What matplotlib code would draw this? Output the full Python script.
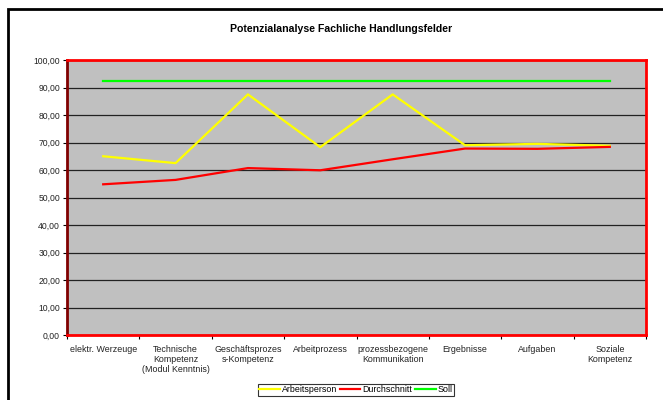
import matplotlib
matplotlib.use('Agg')
import matplotlib.pyplot as plt
from matplotlib.patches import Rectangle

plt.rcParams['font.family'] = ['Liberation Sans', 'DejaVu Sans']

categories = ['elektr. Werzeuge', 'Technische\nKompetenz\n(Modul Kenntnis)',
              'Geschäftsprozes\ns-Kompetenz', 'Arbeitprozess',
              'prozessbezogene\nKommunikation', 'Ergebnisse', 'Aufgaben',
              'Soziale\nKompetenz']
arbeitsperson = [65.0, 62.5, 87.5, 68.3, 87.5, 69.0, 69.5, 68.8]
durchschnitt = [54.8, 56.4, 60.7, 59.9, 63.9, 67.8, 67.7, 68.4]
soll = [92.5, 92.5, 92.5, 92.5, 92.5, 92.5, 92.5, 92.5]
yticks = [0, 10, 20, 30, 40, 50, 60, 70, 80, 90, 100]

W, H = 663, 400
fig = plt.figure(figsize=(W / 100, H / 100), dpi=100)
ax = fig.add_axes([67 / W, 1 - 335 / H, (646 - 67) / W, (335 - 60) / H])
ax.set_facecolor('#c0c0c0')

x = list(range(len(categories)))
ax.plot(x, arbeitsperson, color='#ffff00', lw=1.6, label='Arbeitsperson')
ax.plot(x, durchschnitt, color='#ff0000', lw=1.6, label='Durchschnitt')
ax.plot(x, soll, color='#00ff00', lw=1.6, label='Soll')

ax.set_xlim(-0.5, len(categories) - 0.5)
ax.set_ylim(0, 100)
ax.set_yticks(yticks)
ax.yaxis.set_major_formatter(plt.FuncFormatter(lambda v, p: ('%.2f' % v).replace('.', ',')))
ax.set_xticks([i - 0.5 for i in range(len(categories) + 1)])
ax.set_xticklabels([])
ax.set_xticks(x, minor=True)
ax.set_xticklabels(categories, minor=True, fontsize=6.4, color='#222222',
                   linespacing=1.15)
ax.tick_params(axis='x', which='minor', length=0, pad=7)
ax.tick_params(axis='x', which='major', length=3, width=0.8, direction='out')
ax.tick_params(axis='y', length=3, width=0.8, labelsize=6.2, labelcolor='#222222', pad=2)
ax.grid(axis='y', color='#222222', lw=0.9)
ax.set_axisbelow(True)

for s in ['top', 'right', 'bottom']:
    ax.spines[s].set_color('#ff0000')
    ax.spines[s].set_linewidth(2)
ax.spines['left'].set_color('#800000')
ax.spines['left'].set_linewidth(2)

fig.text(341 / W, 1 - 29 / H, 'Potenzialanalyse Fachliche Handlungsfelder',
         ha='center', va='center', fontsize=7.6, fontweight='bold')

leg = fig.legend(loc='center', bbox_to_anchor=(356 / W, 1 - 390 / H), ncol=3,
                 fontsize=6.4, frameon=True, fancybox=False, edgecolor='black',
                 handlelength=2.3, handletextpad=0.25, columnspacing=0.3,
                 borderpad=0.15, borderaxespad=0)
leg.get_frame().set_linewidth(0.8)

fig.patches.append(Rectangle((8 / W, -0.1), 1.2, 1 - 9 / H + 0.1,
                             transform=fig.transFigure, fill=False,
                             edgecolor='black', lw=2))

fig.savefig('out.png', dpi=100)
